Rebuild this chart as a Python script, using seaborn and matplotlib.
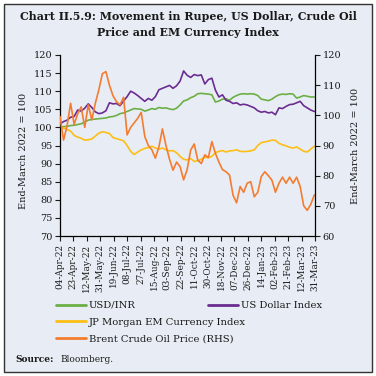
import pandas as pd
import matplotlib
matplotlib.use("Agg")
import matplotlib.pyplot as plt
import matplotlib.dates as mdates
from matplotlib.lines import Line2D
from matplotlib.patches import Rectangle
import seaborn as sns

# Observation dates (every 5 days) and index values, End-March 2022 = 100
dates = pd.date_range("2022-04-04", "2023-03-30", freq="5D")

usd_inr = [100.0, 100.2, 100.3, 100.5, 100.6, 100.8, 101.0, 101.5, 102.0, 102.2, 102.3, 102.4, 102.5,
           102.6, 102.9, 103.0, 103.3, 103.8, 104.0, 104.4, 104.8, 105.2, 105.1, 105.0, 104.5,
           104.8, 105.2, 105.0, 105.5, 105.3, 105.4, 105.1, 104.9, 105.3, 106.2, 107.3, 107.6,
           108.2, 108.6, 109.3, 109.4, 109.3, 109.2, 109.0, 107.0, 107.3, 107.8, 107.9, 107.5,
           108.3, 108.8, 109.2, 109.3, 109.2, 109.3, 109.2, 108.8, 107.8, 107.6, 107.4, 107.8,
           108.5, 109.0, 109.2, 109.1, 109.3, 109.2, 108.1, 108.4, 108.8, 108.6, 108.4, 108.4]

dollar_index = [101.0, 101.6, 102.0, 102.8, 103.0, 104.8, 104.5, 105.3, 106.5, 105.5, 104.3, 103.8, 104.0,
                104.6, 106.8, 106.5, 106.6, 106.0, 107.3, 108.5, 110.0, 109.5, 108.8, 108.0, 107.2,
                108.0, 107.5, 108.5, 110.4, 110.8, 111.2, 111.6, 110.8, 111.5, 112.8, 115.6, 114.4,
                113.8, 114.6, 114.3, 114.5, 112.0, 113.2, 113.6, 110.3, 108.4, 109.0, 107.5, 107.2,
                106.6, 106.8, 106.2, 106.4, 106.2, 105.8, 105.4, 104.6, 104.2, 104.4, 104.0, 104.2,
                103.5, 105.4, 105.2, 105.8, 106.3, 106.4, 106.8, 107.2, 106.0, 105.4, 104.8, 104.4]

em_currency = [100.0, 99.8, 99.4, 99.0, 97.8, 97.3, 97.0, 96.5, 96.6, 96.8, 97.6, 98.4, 98.8,
               98.6, 98.3, 97.2, 96.9, 96.6, 96.3, 95.0, 93.4, 92.5, 93.2, 93.8, 94.2,
               94.4, 94.8, 94.3, 94.0, 94.3, 93.8, 93.5, 93.6, 93.0, 92.0, 91.2, 91.0,
               91.4, 90.6, 90.8, 91.2, 91.8, 91.6, 92.0, 93.0, 93.4, 93.6, 93.2, 93.5,
               93.6, 93.8, 93.4, 93.3, 93.4, 93.5, 93.8, 95.0, 95.8, 96.0, 96.2, 96.5,
               96.4, 95.6, 95.2, 94.9, 94.5, 94.3, 94.6, 94.0, 93.4, 93.2, 94.0, 94.8]

brent = [99.6, 91.8, 96.5, 104.0, 97.0, 100.5, 102.8, 96.0, 103.5, 98.5, 104.0, 108.5, 113.8,
         114.5, 110.0, 106.5, 104.5, 103.5, 106.0, 93.5, 96.0, 97.5, 99.0, 101.0, 93.0,
         90.0, 88.6, 85.8, 89.5, 95.5, 90.0, 85.5, 81.8, 84.5, 83.0, 78.6, 82.0,
         88.5, 90.5, 85.2, 84.0, 86.9, 86.0, 91.3, 87.4, 84.5, 82.0, 81.3, 80.2,
         73.5, 71.0, 76.4, 74.5, 77.5, 78.0, 73.0, 74.5, 79.7, 81.3, 80.0, 78.5,
         74.5, 77.5, 79.5, 77.5, 79.5, 77.5, 79.5, 76.4, 70.0, 68.5, 70.5, 73.6]

labels = ["USD/INR", "US Dollar Index", "JP Morgan EM Currency Index", "Brent Crude Oil Price (RHS)"]
colors = ["#6BAF45", "#6A2C91", "#FDBE15", "#F47C30"]

sns.set_theme(style="ticks")
plt.rcParams["font.family"] = ["DejaVu Serif"]
bg = "#E8EDF5"
ink = "#1a1a1a"

fig = plt.figure(figsize=(3.76, 3.76), dpi=100, facecolor="white")
fig.patches.append(Rectangle((4 / 376, 4 / 376), 368 / 376, 368 / 376, transform=fig.transFigure,
                             facecolor=bg, edgecolor="#333333", lw=1.0, zorder=-1))

ax = fig.add_axes([60 / 376, 1 - 236 / 376, 255 / 376, 181 / 376])
ax.set_facecolor("none")
ax2 = ax.twinx()

sns.lineplot(x=dates, y=usd_inr, ax=ax, color=colors[0], lw=1.2)
sns.lineplot(x=dates, y=dollar_index, ax=ax, color=colors[1], lw=1.2)
sns.lineplot(x=dates, y=em_currency, ax=ax, color=colors[2], lw=1.2)
sns.lineplot(x=dates, y=brent, ax=ax2, color=colors[3], lw=1.2)

ax.set_xlim(pd.Timestamp("2022-04-04"), pd.Timestamp("2023-03-31"))
ax.set_ylim(70, 120)
ax.set_yticks(range(70, 121, 5))
ax2.set_ylim(60, 120)
ax2.set_yticks(range(60, 121, 10))
ax.set_xticks(pd.date_range("2022-04-04", "2023-03-31", freq="19D"))
ax.xaxis.set_major_formatter(mdates.DateFormatter("%d-%b-%y"))

for s in ["top", "right"]:
    ax.spines[s].set_visible(False)
for s in ["top", "left", "bottom"]:
    ax2.spines[s].set_visible(False)
for a in [ax, ax2]:
    for s in a.spines.values():
        s.set_color("black")
        s.set_linewidth(0.9)

ax.tick_params(axis="x", rotation=90, labelsize=6.4, length=3.5, width=0.8, pad=2, colors=ink)
ax.tick_params(axis="y", labelsize=7, length=3.5, width=0.8, pad=2, colors=ink)
ax2.tick_params(axis="y", labelsize=7, length=3.5, width=0.8, pad=2, colors=ink)

ax.set_ylabel("End-March 2022 = 100", fontsize=7, color=ink)
ax.yaxis.set_label_coords(-0.125, 0.47)
ax2.set_ylabel("End-March 2022 = 100", fontsize=7, color=ink)
ax2.yaxis.set_label_coords(1.14, 0.5)
ax.set_xlabel("")

fig.text(0.5, 1 - 16 / 376, "Chart II.5.9: Movement in Rupee, US Dollar, Crude Oil",
         ha="center", va="center", fontsize=7.9, fontweight="bold", color=ink)
fig.text(0.5, 1 - 33 / 376, "Price and EM Currency Index",
         ha="center", va="center", fontsize=7.9, fontweight="bold", color=ink)

handles = [Line2D([], [], color=c, lw=2) for c in colors]
leg_kw = dict(frameon=False, fontsize=7.2, handlelength=3.0, handletextpad=0.3,
              borderpad=0, borderaxespad=0, labelspacing=0.78, loc="upper left")
leg1 = fig.legend([handles[0], handles[2], handles[3]], [labels[0], labels[2], labels[3]],
                  bbox_to_anchor=(56 / 376, 1 - 301 / 376), **leg_kw)
for t in leg1.get_texts():
    t.set_color(ink)
leg2 = fig.legend([handles[1]], [labels[1]], bbox_to_anchor=(208 / 376, 1 - 301 / 376), **leg_kw)
for t in leg2.get_texts():
    t.set_color(ink)

fig.text(15 / 376, 1 - 359 / 376, "Source:", ha="left", va="center", fontsize=6.5,
         fontweight="bold", color=ink)
fig.text(60 / 376, 1 - 359 / 376, "Bloomberg.", ha="left", va="center", fontsize=6.5, color=ink)

fig.savefig("out.png", dpi=100, facecolor="white")
